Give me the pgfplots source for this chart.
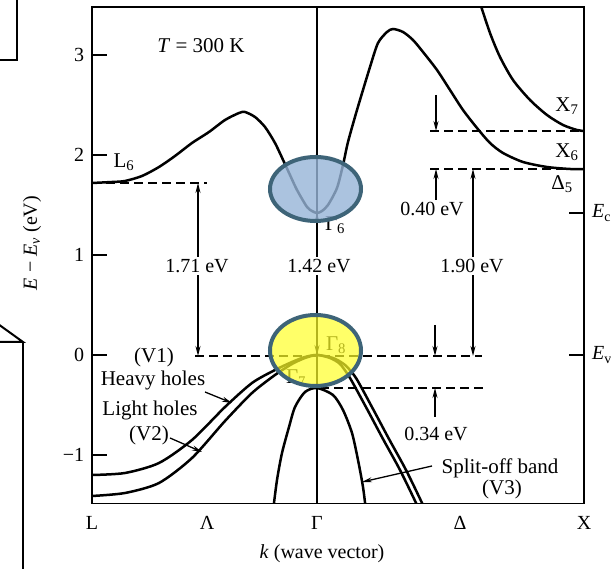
\documentclass[border=0pt]{standalone}
\usepackage{fontspec}
\setmainfont{Liberation Serif}
\usepackage{pgfplots}
\pgfplotsset{compat=1.18}
\usetikzlibrary{arrows.meta}
\definecolor{ellblue}{RGB}{150,180,215}
\definecolor{elledge}{RGB}{62,100,120}
\definecolor{ellyellow}{RGB}{255,255,40}
\newcommand\fs{\fontsize{20}{24}\selectfont}
\newcommand\fa{\fontsize{21}{25}\selectfont}
\begin{document}
\fs
\begin{tikzpicture}[x=1pt,y=1pt,
  arr/.style={line width=1.3pt,-{Stealth[length=10pt,width=5pt]}},
  darr/.style={line width=1.3pt,{Stealth[length=10pt,width=5pt]}-{Stealth[length=10pt,width=5pt]}},
  dsh/.style={line width=1.5pt,dash pattern=on 9pt off 5pt},
  band/.style={line width=2.5pt,smooth,tension=0.45,no marks,black}]
\begin{axis}[
  at={(92pt,65.7pt)}, anchor=south west,
  scale only axis, width=492pt, height=496.3pt,
  xmin=-225, xmax=267, ymin=-1.483, ymax=3.48,
  axis line style={line width=1.5pt},
  xtick={-225,-110,0,143,267},
  xticklabels={L,Λ,Γ,Δ,X},
  ytick={-1,0,1,2,3}, yticklabels={−1,0,1,2,3},
  ytick pos=left, xtick pos=bottom,
  tick align=inside,
  major tick length=15pt,
  xtick style={draw=none},
  ytick style={line width=1.3pt,black},
  tick label style={font=\fs},
  xticklabel style={yshift=-6pt},
  yticklabel style={xshift=-1pt},
  clip mode=individual,
]
% conduction band L6 - Gamma6 - X6
\addplot[band] coordinates {(-225,1.72) (-205,1.73) (-192,1.74) (-175,1.79) (-158,1.88) (-142,1.99) (-125,2.12) (-108,2.23) (-92,2.35) (-78,2.42) (-72,2.43) (-62,2.38) (-52,2.28) (-42,2.12) (-33,1.93) (-27,1.80) (-20,1.65) (-10,1.48) (-5,1.44) (0,1.42) (5,1.44) (11,1.50) (20,1.67) (26,1.90) (31,2.13) (40,2.45) (53,2.88) (61,3.12) (70,3.23) (76,3.26) (86,3.23) (96,3.15) (106,3.03) (120,2.85) (133,2.65) (146,2.45) (160,2.27) (173,2.12) (186,2.02) (206,1.93) (230,1.88) (253,1.86) (267,1.86)};
% X7 band
\addplot[band] coordinates {(162,3.55) (173,3.22) (183,2.98) (196,2.75) (213,2.55) (230,2.40) (246,2.30) (260,2.25) (267,2.24)};
% heavy holes
\addplot[band] coordinates {(-225,-1.20) (-192,-1.18) (-158,-1.08) (-125,-0.85) (-92,-0.52) (-65,-0.28) (-42,-0.15) (-25,-0.07) (-12,-0.02) (0,0) (16,-0.03) (28,-0.10) (39,-0.23) (56,-0.54) (72,-0.84) (89,-1.15) (105,-1.48) (108,-1.56)};
% light holes
\addplot[band] coordinates {(-225,-1.41) (-192,-1.38) (-158,-1.28) (-125,-1.03) (-92,-0.66) (-65,-0.38) (-42,-0.20) (-25,-0.09) (-12,-0.03) (0,0) (13,-0.03) (23,-0.09) (33,-0.23) (50,-0.54) (66,-0.84) (83,-1.15) (99,-1.48) (102,-1.56)};
% split-off band
\addplot[band] coordinates {(-44,-1.56) (-40,-1.25) (-35,-0.98) (-28,-0.72) (-22,-0.52) (-12,-0.37) (0,-0.33) (16,-0.40) (26,-0.55) (35,-0.78) (41,-1.05) (46,-1.32) (49,-1.56)};

% Gamma line
\draw[line width=1.5pt] (0,-1.483) -- (0,3.48);
% dashed levels
\draw[dsh] (-225,1.72) -- (-110,1.72);
\draw[dsh] (-122,-0.01) -- (165,-0.01);
\draw[dsh] (3,-0.33) -- (166,-0.33);
\draw[dsh] (113,2.24) -- (267,2.24);
\draw[dsh] (113,1.86) -- (267,1.86);
% gap arrows
\draw[darr] (-119,1.72) -- (-119,-0.01);
\node[fill=white,inner sep=2pt] at (-120,0.89) {1.71 eV};
\draw[arr] (0,1.0) -- (0,1.42);
\draw[arr] (0,0.4) -- (0,0);
\node[fill=white,inner sep=2pt] at (2,0.89) {1.42 eV};
\draw[darr] (156,1.86) -- (156,-0.01);
\node[fill=white,inner sep=2pt] at (155,0.89) {1.90 eV};
\draw[arr] (119,2.60) -- (119,2.24);
\draw[arr] (119,1.55) -- (119,1.86);
\node at (115,1.46) {0.40 eV};
\draw[arr] (118,0.30) -- (118,-0.01);
\draw[arr] (118,-0.62) -- (118,-0.33);
\node at (119,-0.79) {0.34 eV};
% right ticks
\draw[line width=1.3pt] (267,1.42) -- (252,1.42);
\draw[line width=1.3pt] (267,0) -- (252,0);
\node[anchor=west,inner sep=0pt,xshift=8pt] at (267,1.42) {\textit{E}\textsubscript{c}};
\node[anchor=west,inner sep=0pt,xshift=8pt] at (267,0) {\textit{E}\textsubscript{v}};
% labels
\node[font=\fa] at (-116,3.09) {\textit{T} = 300 K};
\node[font=\fa] at (-193,1.93) {L\textsubscript{6}};
\node[font=\fa] at (250,2.49) {X\textsubscript{7}};
\node[font=\fa] at (250,2.03) {X\textsubscript{6}};
\node[font=\fa] at (245,1.71) {Δ\textsubscript{5}};
\node[font=\fa] at (18,1.30) {Γ\textsubscript{6}};
\node[font=\fa] at (19,0.10) {Γ\textsubscript{8}};
\node[font=\fa] at (-21,-0.23) {Γ\textsubscript{7}};
\node[font=\fa] at (-163,-0.02) {(V1)};
\node[font=\fa] at (-164,-0.25) {Heavy holes};
\node[font=\fa] at (-167,-0.55) {Light holes};
\node[font=\fa] at (-168,-0.80) {(V2)};
\node[font=\fa] at (183,-1.13) {Split-off band};
\node[font=\fa] at (185,-1.34) {(V3)};
\draw[arr] (-112,-0.37) -- (-85,-0.48);
\draw[arr] (-147,-0.83) -- (-115,-0.97);
\draw[arr] (115,-1.11) -- (45,-1.27);
% highlight ellipses
\draw[line width=4pt,draw=elledge,fill=ellblue,fill opacity=0.8] (-1.5,1.66) ellipse [x radius=45.5pt, y radius=32pt];
\draw[line width=4pt,draw=elledge,fill=ellyellow,fill opacity=0.7] (-1.5,0.045) ellipse [x radius=45.5pt, y radius=35.5pt];
\end{axis}
% axis titles
\node[rotate=90] at (32,326) {\textit{E} − \textit{E}\textsubscript{\textit{v}} (eV)};
\node at (322,15) {\textit{k} (wave vector)};
% fragments of neighbouring slide shapes
\draw[line width=2pt] (17,571) -- (17,509) -- (-2,509);
\draw[line width=2pt] (-2,245) -- (23,227) -- (-2,227);
\draw[line width=2pt] (23,227) -- (23,-2);
\pgfresetboundingbox
\useasboundingbox (0,0) rectangle (611,569);
\end{tikzpicture}
\end{document}
